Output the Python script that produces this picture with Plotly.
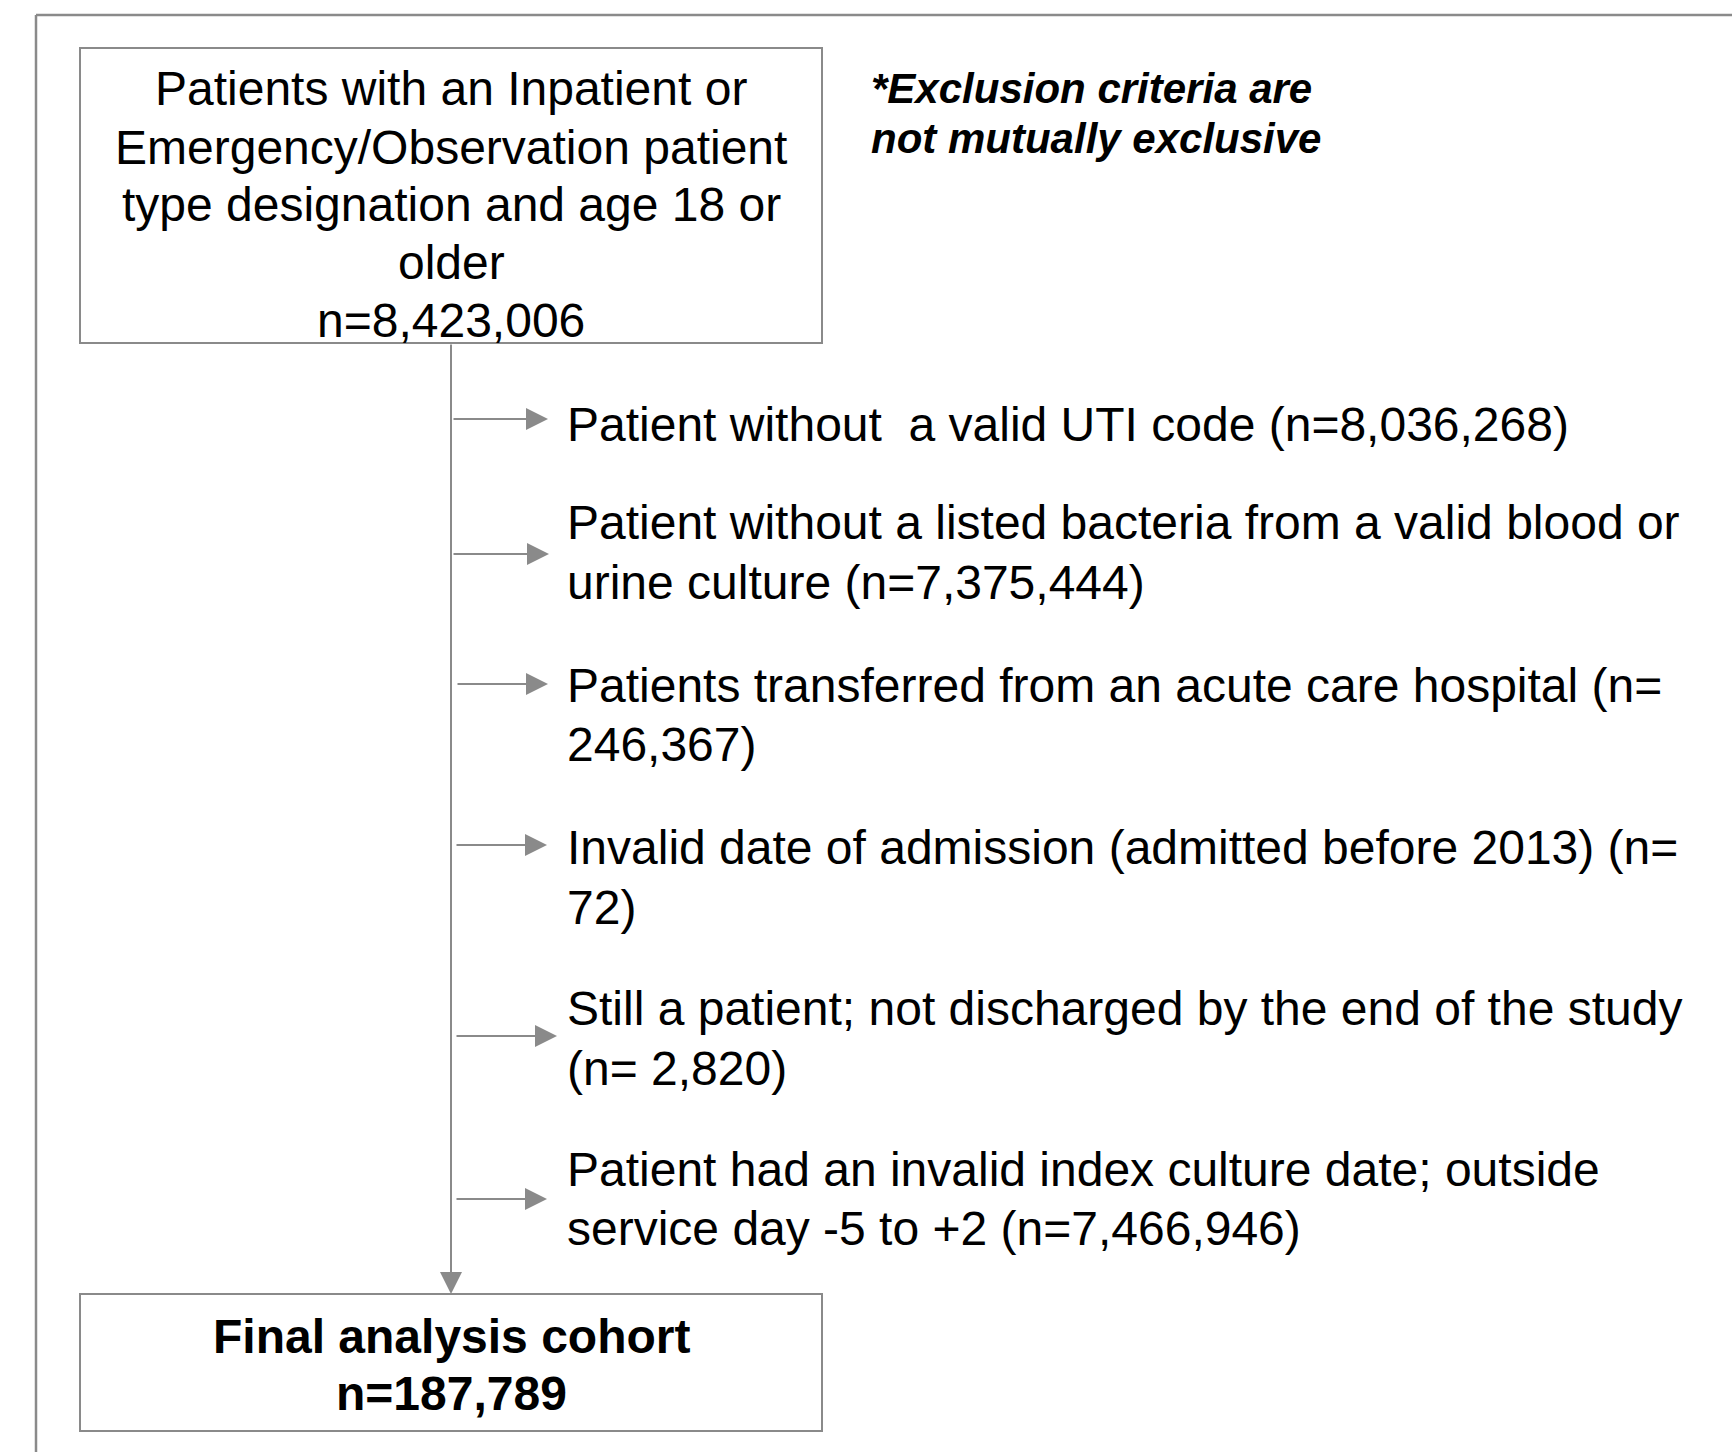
import plotly.graph_objects as go

W, H = 1732, 1452

# ---- content ----
start_lines = ["Patients with an Inpatient or",
               "Emergency/Observation patient",
               "type designation and age 18 or",
               "older",
               "n=8,423,006"]
exclusion_lines = [
    ["Patient without \u00a0a valid UTI code (n=8,036,268)"],
    ["Patient without a listed bacteria from a valid blood or", "urine culture (n=7,375,444)"],
    ["Patients transferred from an acute care hospital (n=", "246,367)"],
    ["Invalid date of admission (admitted before 2013) (n=", "72)"],
    ["Still a patient; not discharged by the end of the study", "(n= 2,820)"],
    ["Patient had an invalid index culture date; outside", "service day -5 to +2 (n=7,466,946)"],
]
note_lines = ["*Exclusion criteria are", "not mutually exclusive"]
final_lines = ["Final analysis cohort", "n=187,789"]

# ---- layout geometry (pixels) ----
GRAY = "#8a8a8a"
FONT = "Liberation Sans"
box_x0, box_x1 = 80, 822
top_y0, top_y1 = 48, 343
fin_y0, fin_y1 = 1294, 1431
spine_x = 451
start_line_y = [88, 147, 204, 262, 320]
excl_text_x = 565
excl_line_y = [[424], [522, 582], [685, 744], [847, 907], [1008, 1068], [1169, 1228]]
arrow_y = [419, 554, 684, 845, 1036, 1199]
arrow_tail_x = [452, 452, 456, 455, 455, 455]
arrow_tip_x = [548, 549, 548, 547, 557, 547]
note_x = 869
note_y = [88, 138]
final_y = [1336, 1393]

fig = go.Figure()
shapes = []
# outer frame (top and left edges visible)
shapes.append(dict(type="line", x0=36, y0=15, x1=W + 10, y1=15, line=dict(color=GRAY, width=2.5)))
shapes.append(dict(type="line", x0=36, y0=15, x1=36, y1=H + 10, line=dict(color=GRAY, width=2.5)))
# boxes
shapes.append(dict(type="rect", x0=box_x0, y0=top_y0, x1=box_x1, y1=top_y1,
                   line=dict(color=GRAY, width=2), fillcolor="white"))
shapes.append(dict(type="rect", x0=box_x0, y0=fin_y0, x1=box_x1, y1=fin_y1,
                   line=dict(color=GRAY, width=2), fillcolor="white"))

annotations = []
for t, y in zip(start_lines, start_line_y):
    annotations.append(dict(x=(box_x0 + box_x1) / 2, y=y, text=t, showarrow=False,
                            xanchor="center", yanchor="middle",
                            font=dict(family=FONT, size=48, color="black")))
for t, y in zip(final_lines, final_y):
    annotations.append(dict(x=(box_x0 + box_x1) / 2, y=y, text="<b>" + t + "</b>", showarrow=False,
                            xanchor="center", yanchor="middle",
                            font=dict(family=FONT, size=48, color="black")))
for t, y in zip(note_lines, note_y):
    annotations.append(dict(x=note_x, y=y, text="<b><i>" + t + "</i></b>", showarrow=False,
                            xanchor="left", yanchor="middle",
                            font=dict(family=FONT, size=42, color="black")))
for lines, ys in zip(exclusion_lines, excl_line_y):
    for t, y in zip(lines, ys):
        annotations.append(dict(x=excl_text_x, y=y, text=t, showarrow=False,
                                xanchor="left", yanchor="middle",
                                font=dict(family=FONT, size=48, color="black")))
# main spine arrow
annotations.append(dict(x=spine_x, y=fin_y0, ax=spine_x, ay=top_y1, xref="x", yref="y",
                        axref="x", ayref="y", text="", showarrow=True, arrowhead=2,
                        arrowsize=2.2, arrowwidth=2, arrowcolor=GRAY))
# side arrows
for y, x0, x1 in zip(arrow_y, arrow_tail_x, arrow_tip_x):
    annotations.append(dict(x=x1, y=y, ax=x0, ay=y, xref="x", yref="y",
                            axref="x", ayref="y", text="", showarrow=True, arrowhead=2,
                            arrowsize=2.2, arrowwidth=2, arrowcolor=GRAY))

fig.update_layout(
    width=W, height=H, margin=dict(l=0, r=0, t=0, b=0),
    paper_bgcolor="white", plot_bgcolor="white",
    xaxis=dict(range=[0, W], visible=False, fixedrange=True),
    yaxis=dict(range=[H, 0], visible=False, fixedrange=True),
    shapes=shapes, annotations=annotations, showlegend=False,
)
fig.write_html("out.html", config={"displayModeBar": False},
               post_script="document.body.style.margin='0';document.body.style.overflow='hidden';")
